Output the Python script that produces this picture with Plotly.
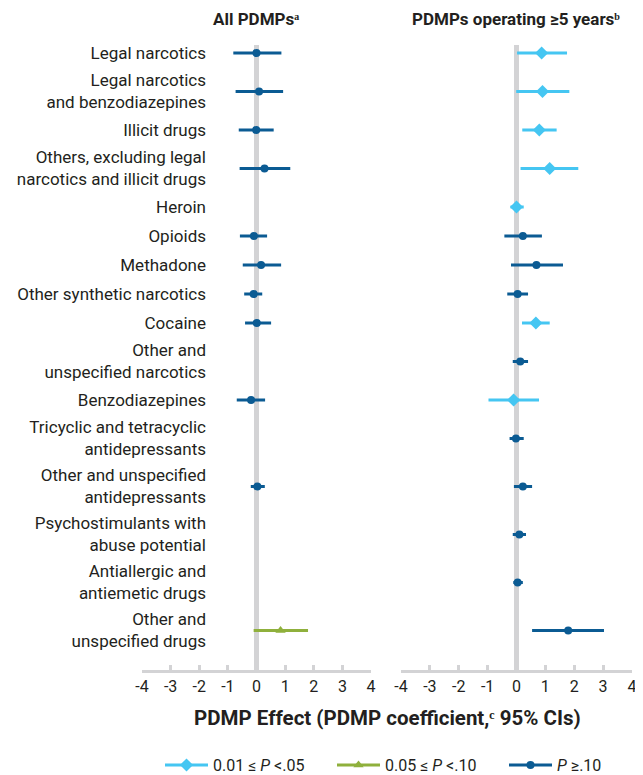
import plotly.graph_objects as go

categories = [
    "Legal narcotics",
    "Legal narcotics<br>and benzodiazepines",
    "Illicit drugs",
    "Others, excluding legal<br>narcotics and illicit drugs",
    "Heroin",
    "Opioids",
    "Methadone",
    "Other synthetic narcotics",
    "Cocaine",
    "Other and<br>unspecified narcotics",
    "Benzodiazepines",
    "Tricyclic and tetracyclic<br>antidepressants",
    "Other and unspecified<br>antidepressants",
    "Psychostimulants with<br>abuse potential",
    "Antiallergic and<br>antiemetic drugs",
    "Other and<br>unspecified drugs",
]

# All PDMPs
all_est = [0.00, 0.09, -0.01, 0.28, None, -0.09, 0.16, -0.10, 0.01, None, -0.19, None, 0.03, None, None, 0.84]
all_lo = [-0.81, -0.73, -0.62, -0.59, None, -0.58, -0.48, -0.43, -0.40, None, -0.69, None, -0.20, None, None, -0.10]
all_hi = [0.87, 0.93, 0.60, 1.18, None, 0.37, 0.86, 0.20, 0.51, None, 0.30, None, 0.29, None, None, 1.80]
all_p = ["ns", "ns", "ns", "ns", None, "ns", "ns", "ns", "ns", None, "ns", None, "ns", None, None, "p10"]

# PDMPs operating >=5 years
five_est = [0.87, 0.90, 0.79, 1.15, 0.00, 0.22, 0.69, 0.04, 0.67, 0.13, -0.10, -0.02, 0.22, 0.10, 0.04, 1.79]
five_lo = [0.02, -0.01, 0.20, 0.14, -0.21, -0.42, -0.19, -0.32, 0.19, -0.13, -0.97, -0.24, -0.09, -0.13, -0.11, 0.54]
five_hi = [1.75, 1.83, 1.39, 2.14, 0.25, 0.88, 1.61, 0.40, 1.15, 0.40, 0.78, 0.25, 0.54, 0.33, 0.22, 3.03]
five_p = ["p05", "p05", "p05", "p05", "p05", "ns", "ns", "ns", "p05", "ns", "p05", "ns", "ns", "ns", "ns", "ns"]

p_groups = ["p05", "p10", "ns"]
p_labels = ["0.01 ≤ <i>P</i> <.05", "0.05 ≤ <i>P</i> <.10", "<i>P</i> ≥.10"]
x_ticks = [-4, -3, -2, -1, 0, 1, 2, 3, 4]

styles = {
    "p05": dict(color="#45c6f2", symbol="diamond", size=10),
    "p10": dict(color="#8fb03c", symbol="triangle-up", size=9),
    "ns": dict(color="#0b5b93", symbol="circle", size=8),
}

FONT = "Roboto"
TEXT = "#231f20"
GREY = "#d3d3d5"

# row positions from the number of label lines
ROW_H = {1: 29, 2: 48}
positions = []
acc = 0
for c in categories:
    h = ROW_H[c.count("<br>") + 1]
    positions.append(acc + h / 2)
    acc += h

fig = go.Figure()


def add_panel(est, lo, hi, pv, xa, ya):
    for g in p_groups:
        idx = [i for i, p in enumerate(pv) if p == g]
        if not idx:
            continue
        st = styles[g]
        fig.add_trace(go.Scatter(
            x=[est[i] for i in idx],
            y=[positions[i] for i in idx],
            mode="markers",
            marker=dict(color=st["color"], symbol=st["symbol"], size=st["size"]),
            error_x=dict(type="data", symmetric=False,
                         array=[hi[i] - est[i] for i in idx],
                         arrayminus=[est[i] - lo[i] for i in idx],
                         thickness=3, width=0, color=st["color"]),
            showlegend=False, hoverinfo="skip",
            xaxis=xa, yaxis=ya,
        ))


add_panel(all_est, all_lo, all_hi, all_p, "x", "y")
add_panel(five_est, five_lo, five_hi, five_p, "x2", "y2")

for g, lab in zip(p_groups, p_labels):
    st = styles[g]
    fig.add_trace(go.Scatter(
        x=[None], y=[None], mode="lines+markers", name=lab,
        line=dict(color=st["color"], width=3),
        marker=dict(color=st["color"], symbol=st["symbol"], size=st["size"]),
        xaxis="x", yaxis="y",
    ))

# page body has an 8px margin; lay out in page pixels
OFF = 8
W, H = 643 - OFF, 775 - OFF
TOP, BOT = 45, 670          # plot area in page pixels
PH = BOT - TOP


def px(x):
    return (x - OFF) / W


def py(p):
    return (BOT - p) / PH


xcommon = dict(
    range=[-4, 4], tickmode="array", tickvals=x_ticks,
    ticktext=[str(v) for v in x_ticks],
    showgrid=False, zeroline=True, zerolinecolor=GREY, zerolinewidth=5,
    showline=True, linecolor=GREY, linewidth=3,
    ticks="inside", ticklen=5, tickwidth=3, tickcolor=GREY,
    tickfont=dict(family=FONT, size=16, color=TEXT),
    fixedrange=True,
)

fig.update_layout(
    width=W, height=H,
    margin=dict(l=0, r=0, t=TOP - OFF, b=H - (BOT - OFF), autoexpand=False),
    paper_bgcolor="white", plot_bgcolor="white",
    font=dict(family=FONT, color=TEXT),
    xaxis=dict(domain=[px(142), px(371)], anchor="y", **xcommon),
    xaxis2=dict(domain=[px(401), px(632)], anchor="y2", **xcommon),
    yaxis=dict(range=[acc + 15.5, 6.5], anchor="free", position=px(206),
               tickmode="array", tickvals=positions, ticktext=categories,
               showgrid=False, zeroline=False, showline=False, ticks="",
               tickfont=dict(family=FONT, size=17, color=TEXT)),
    yaxis2=dict(range=[acc + 15.5, 6.5], anchor="x2", showticklabels=False,
                showgrid=False, zeroline=False, showline=False, ticks=""),
    showlegend=True,
    legend=dict(orientation="h", x=px(160), xanchor="left",
                y=py(765), yanchor="middle",
                font=dict(family=FONT, size=16, color=TEXT),
                itemwidth=43, entrywidth=114, bgcolor="rgba(0,0,0,0)"),
    annotations=[
        dict(text="<b>All PDMPsᵃ</b>", x=px(256), y=py(19),
             xref="paper", yref="paper", xanchor="center", yanchor="middle",
             showarrow=False, font=dict(family=FONT, size=17, color=TEXT)),
        dict(text="<b>PDMPs operating ≥5 yearsᵇ</b>", x=px(516), y=py(19),
             xref="paper", yref="paper", xanchor="center", yanchor="middle",
             showarrow=False, font=dict(family=FONT, size=17, color=TEXT)),
        dict(text="<b>PDMP Effect (PDMP coefficient,ᶜ 95% CIs)</b>",
             x=px(387), y=py(718), xref="paper", yref="paper",
             xanchor="center", yanchor="middle", showarrow=False,
             font=dict(family=FONT, size=20.5, color=TEXT)),
    ],
)

fig.write_html("out.html")
